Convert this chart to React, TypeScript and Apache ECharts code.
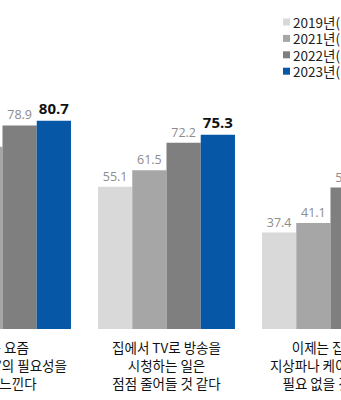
import React, { useEffect, useRef } from "react";
import * as echarts from "echarts";

const categories = [
  "나는 요즘\n‘TV 수상기’의 필요성을\n잘 못 느낀다",
  "집에서 TV로 방송을\n시청하는 일은\n점점 줄어들 것 같다",
  "이제는 집에서\n지상파나 케이블 TV를\n필요 없을 것 같다",
];
const seriesNames = ["2019년(N=1,000)", "2021년(N=1,000)", "2022년(N=1,000)", "2023년(N=1,000)"];
const values2019 = [66.3, 55.1, 37.4];
const values2021 = [70.6, 61.5, 41.1];
const values2022 = [78.9, 72.2, 54.8];
const values2023 = [80.7, 75.3, 59.6];
const colors = ["#d9d9d9", "#a6a6a6", "#7f7f7f", "#0658a7"];

export default function App() {
  const ref = useRef<HTMLDivElement>(null);
  useEffect(() => {
    if (!ref.current) return;
    const chart = echarts.init(ref.current, null, { renderer: "svg" });
    const all = [values2019, values2021, values2022, values2023];
    chart.setOption({
      animation: false,
      color: colors,
      legend: {
        orient: "vertical",
        left: 378,
        top: 9,
        itemWidth: 7,
        itemHeight: 7,
        itemGap: 0.4,
        icon: "rect",
        textStyle: { fontSize: 13.5, lineHeight: 16, color: "#222", fontFamily: "Noto Sans CJK KR", padding: [0, 0, 0, -2] },
        data: seriesNames,
      },
      grid: { left: 20.5, right: 47.5, top: 71, bottom: 71 },
      xAxis: {
        type: "category",
        data: categories,
        axisLine: { show: false },
        axisTick: { show: false },
        axisLabel: {
          interval: 0,
          margin: 9,
          fontSize: 13.5,
          lineHeight: 18,
          color: "#111",
          fontFamily: "Noto Sans CJK KR",
        },
      },
      yAxis: { type: "value", min: 0, max: 100, show: false, splitLine: { show: false } },
      series: all.map((d, i) => ({
        name: seriesNames[i],
        type: "bar",
        data: d,
        barGap: "0%",
        barCategoryGap: "16.5%",
        label: {
          show: true,
          position: "top",
          distance: i === 3 ? 5 : 4,
          color: i === 3 ? "#111" : "#8c8c8c",
          fontSize: i === 3 ? 15 : 12.5,
          fontWeight: i === 3 ? "bold" : "normal",
          fontFamily: "Open Sans",
        },
      })),
    });
    return () => chart.dispose();
  }, []);
  return (
    <div style={{ position: "fixed", left: 0, top: 0, width: 341, height: 400, overflow: "hidden", background: "#fff" }}>
      <div ref={ref} style={{ position: "absolute", left: -100, top: 0, width: 560, height: 400 }} />
    </div>
  );
}
